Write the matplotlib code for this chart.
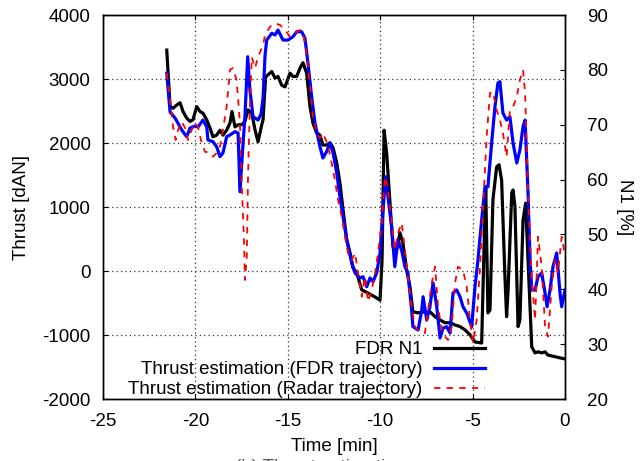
import matplotlib
matplotlib.use("Agg")
import matplotlib.pyplot as plt

plt.rcParams['font.family'] = ['Liberation Sans', 'DejaVu Sans']
plt.rcParams['font.size'] = 13.5
plt.rcParams['axes.unicode_minus'] = False

# FDR engine speed N1 [%] versus time [min]
fdr_t = [-21.55, -21.37, -21.21, -21.01, -20.83, -20.67, -20.47, -20.29, -20.13, -19.93,
         -19.75, -19.59, -19.39, -19.21, -19.05, -18.85, -18.67, -18.51, -18.31, -18.13,
         -18.02, -17.86, -17.69, -17.49, -17.32, -17.15, -16.95, -16.77, -16.61, -16.41,
         -16.34, -16.20, -16.07, -15.87, -15.69, -15.53, -15.33, -15.15, -14.88, -14.72,
         -14.52, -14.34, -14.18, -13.98, -13.80, -13.64, -13.44, -13.26, -13.10, -12.90,
         -12.72, -12.55, -12.35, -12.18, -12.01, -11.81, -11.63, -11.47, -11.27, -11.00,
         -10.66, -10.28, -10.01, -9.90, -9.79, -9.65, -9.47, -9.31, -9.11, -8.93,
         -8.77, -8.57, -8.39, -8.23, -7.95, -7.68, -7.48, -7.31, -7.03, -6.76,
         -6.49, -6.22, -5.95, -5.68, -5.41, -5.14, -4.87, -4.51, -4.38, -4.29,
         -4.17, -4.06, -3.90, -3.70, -3.57, -3.43, -3.25, -3.16, -3.08, -2.88,
         -2.81, -2.71, -2.54, -2.44, -2.27, -2.13, -2.00, -1.80, -1.62, -1.46,
         -1.26, -1.08, -0.92, -0.65, -0.27, 0.0]
fdr_n1 = [83.6, 73.3, 73.0, 73.6, 74.0, 72.4, 71.2, 70.6, 70.9, 73.3,
          72.4, 72.1, 70.9, 69.4, 67.8, 68.1, 69.0, 68.1, 69.0, 70.3,
          72.4, 69.6, 70.0, 70.0, 70.6, 72.7, 72.1, 69.0, 66.9, 70.0,
          70.9, 78.7, 79.1, 79.7, 78.5, 78.8, 77.2, 76.9, 79.4, 78.8,
          78.8, 80.3, 81.3, 79.4, 73.3, 70.3, 68.5, 68.1, 66.3, 66.3,
          66.7, 65.8, 63.0, 59.4, 54.5, 49.0, 46.6, 43.9, 43.0, 39.9,
          39.3, 38.6, 38.0, 45.3, 69.0, 64.8, 55.7, 47.8, 47.2, 50.3,
          48.4, 43.5, 40.5, 35.9, 35.7, 35.9, 35.7, 35.9, 35.0, 34.4,
          33.9, 33.9, 33.5, 33.2, 32.6, 31.7, 30.4, 30.2, 47.8, 58.7,
          35.7, 36.2, 56.3, 62.3, 62.7, 59.9, 42.3, 35.0, 39.9, 57.6,
          58.1, 55.1, 33.2, 34.4, 52.6, 55.7, 45.3, 29.5, 28.4, 28.6,
          28.4, 28.6, 28.0, 27.8, 27.5, 27.3]

# Thrust estimate [dAN] from the FDR trajectory
fdr_traj_t = [-21.55, -21.37, -21.10, -20.74, -20.47, -20.29, -20.02, -19.86, -19.59, -19.39,
              -19.32, -19.05, -18.85, -18.67, -18.51, -18.31, -18.13, -17.86, -17.69, -17.59,
              -17.42, -17.32, -17.17, -17.05, -16.88, -16.61, -16.45, -16.34, -16.23, -16.14,
              -15.87, -15.69, -15.53, -15.26, -14.99, -14.72, -14.52, -14.25, -14.07, -13.91,
              -13.71, -13.53, -13.26, -13.10, -12.90, -12.72, -12.55, -12.35, -12.18, -12.01,
              -11.81, -11.54, -11.36, -11.09, -10.93, -10.73, -10.55, -10.39, -10.19, -10.01,
              -9.85, -9.70, -9.58, -9.38, -9.21, -9.04, -8.84, -8.66, -8.50, -8.30,
              -8.23, -7.95, -7.75, -7.68, -7.48, -7.31, -7.14, -6.94, -6.76, -6.60,
              -6.40, -6.22, -6.06, -5.86, -5.68, -5.52, -5.32, -5.05, -4.87, -4.71,
              -4.51, -4.33, -4.17, -3.97, -3.79, -3.63, -3.52, -3.36, -3.16, -2.98,
              -2.81, -2.61, -2.44, -2.27, -2.16, -2.00, -1.89, -1.80, -1.62, -1.46,
              -1.26, -1.08, -0.97, -0.81, -0.65, -0.45, -0.27, -0.18, 0.0]
fdr_traj_thrust = [3090, 2484, 2390, 2203, 2098, 2234, 2266, 2250, 2359, 2255,
                   2047, 2020, 1942, 1786, 1844, 2098, 2125, 2177, 2156, 1239,
                   2000, 2411, 3348, 2828, 2411, 2359, 2450, 2700, 3375, 3609,
                   3714, 3688, 3766, 3609, 3609, 3661, 3739, 3739, 3636, 3250,
                   2723, 2313, 1942, 1766, 1864, 2000, 1844, 1531, 1161, 848,
                   484, 125, -31, -109, -89, -245, -109, -167, -31, 281,
                   953, 1473, 1161, 692, 67, 484, 328, 67, -31, -609,
                   -870, -922, -609, -402, -766, -558, -188, -558, -1047, -891,
                   -870, -969, -344, -297, -402, -558, -656, -870, -245, 172,
                   797, 1317, 1317, 2000, 2567, 2938, 2958, 2469, 2359, 2411,
                   2000, 1688, 1891, 2255, 2359, 1219, 172, -297, -297, -89,
                   -31, -344, -558, -297, 67, 281, -344, -558, -297]

# Thrust estimate [dAN] from the radar trajectory
radar_t = [-21.55, -21.37, -21.21, -21.07, -20.94, -20.74, -20.56, -20.40, -20.20, -20.02,
           -19.86, -19.66, -19.48, -19.21, -19.05, -18.85, -18.67, -18.51, -18.31, -18.13,
           -17.97, -17.77, -17.59, -17.48, -17.37, -17.32, -17.22, -17.15, -17.05, -16.95,
           -16.77, -16.61, -16.34, -16.23, -15.96, -15.69, -15.42, -15.15, -14.88, -14.61,
           -14.34, -14.18, -13.98, -13.80, -13.64, -13.44, -13.26, -13.10, -12.83, -12.63,
           -12.45, -12.28, -12.08, -11.91, -11.74, -11.54, -11.36, -11.20, -11.00, -10.82,
           -10.66, -10.46, -10.28, -10.12, -9.91, -9.74, -9.58, -9.38, -9.21, -9.04,
           -8.84, -8.66, -8.50, -8.30, -8.12, -7.85, -7.58, -7.41, -7.21, -7.03,
           -6.87, -6.67, -6.49, -6.33, -6.13, -5.95, -5.79, -5.52, -5.32, -5.14,
           -4.98, -4.78, -4.60, -4.44, -4.24, -4.06, -3.90, -3.70, -3.52, -3.36,
           -3.16, -2.98, -2.81, -2.61, -2.44, -2.27, -2.16, -2.00, -1.80, -1.62,
           -1.46, -1.26, -1.08, -0.92, -0.72, -0.54, -0.38, -0.18, 0.0]
radar_thrust = [3090, 2672, 2255, 2047, 2203, 2333, 2234, 2047, 2203, 2313,
                2255, 2000, 1864, 1844, 1786, 1844, 1942, 2203, 2567, 3141,
                3172, 2984, 2313, 1266, 484, -141, 223, 1531, 2567, 3344,
                3172, 3344, 3531, 3688, 3817, 3870, 3844, 3766, 3661, 3719,
                3766, 3719, 3406, 2880, 2411, 2156, 2078, 2156, 1969, 1688,
                1422, 1109, 848, 536, 281, 172, 281, -31, -402, -89,
                -480, -297, -31, 281, 797, 1473, 1266, 797, 328, 594,
                750, 328, -89, -558, -870, -948, -969, -609, -188, 67,
                -558, -922, -1027, -1078, -870, -188, 67, 16, -245, -766,
                -1125, -766, 67, 953, 2098, 2781, 2802, 2516, 2359, 2156,
                1786, 2516, 2567, 2723, 2984, 3141, 2781, 1219, -89, -766,
                536, 67, -870, -1027, -245, 172, -31, 536, 250]

x_ticks = [-25, -20, -15, -10, -5, 0]
thrust_ticks = [-2000, -1000, 0, 1000, 2000, 3000, 4000]
n1_ticks = [20, 30, 40, 50, 60, 70, 80, 90]

fig = plt.figure(figsize=(6.41, 4.61), dpi=100)
ax = fig.add_axes([103 / 641, 1 - 399 / 461, 462 / 641, 384 / 461])
ax2 = ax.twinx()
# thrust axes on top so the N1 trace sits underneath the estimates
ax.set_zorder(ax2.get_zorder() + 1)
ax.patch.set_visible(False)

l_n1, = ax2.plot(fdr_t, fdr_n1, color='black', lw=2.3, solid_joinstyle='round')
l_fdr, = ax.plot(fdr_traj_t, fdr_traj_thrust, color='#0000ff', lw=2.3, solid_joinstyle='round')
l_radar, = ax.plot(radar_t, radar_thrust, color='#ff0000', lw=1.3, dashes=(3.5, 3.5))

ax.set_xlim(-25, 0)
ax.set_ylim(-2000, 4000)
ax2.set_ylim(20, 90)
ax.set_xticks(x_ticks)
ax.set_yticks(thrust_ticks)
ax2.set_yticks(n1_ticks)

ax.grid(True, linestyle=(0, (1, 2.5)), color='#333333', lw=0.9)
ax.tick_params(axis='both', direction='in', length=3.6, width=0.8, top=True, right=False)
ax.tick_params(axis='y', pad=9)
ax.tick_params(axis='x', pad=10)
ax2.tick_params(axis='y', direction='in', length=3.6, width=0.8, pad=16)
for a in (ax, ax2):
    for s in a.spines.values():
        s.set_linewidth(1.0)

ax.set_xlabel('Time [min]', labelpad=6)
ax.set_ylabel('Thrust [dAN]', labelpad=9)
ax2.set_ylabel('N1 [%]', rotation=270, labelpad=18)

ax.legend([l_n1, l_fdr, l_radar],
          ['FDR N1', 'Thrust estimation (FDR trajectory)', 'Thrust estimation (Radar trajectory)'],
          loc='lower right', bbox_to_anchor=(0.835, -0.008), frameon=False,
          markerfirst=False, handlelength=2.7, handletextpad=0.65,
          labelspacing=0.15, borderpad=0.2, borderaxespad=0.0)

# figure caption, mostly below the lower edge of the canvas
fig.text(0.5, 1 - 459 / 461, '(b) Thrust estimation', ha='center', va='top',
         color='#555555', fontsize=13.5)

fig.savefig('out.png', dpi=100)
